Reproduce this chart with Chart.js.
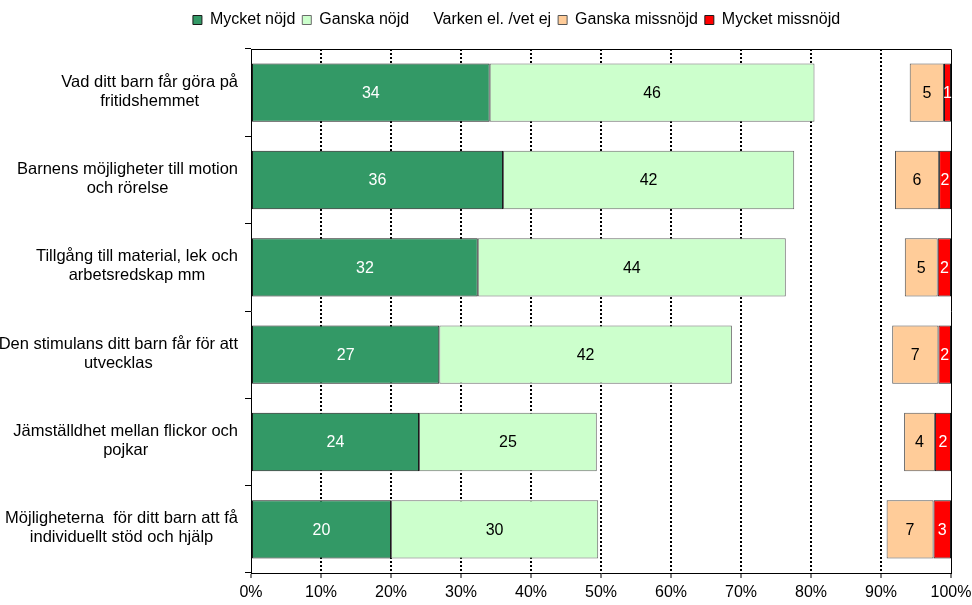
<!DOCTYPE html>
<html>
<head>
<meta charset="utf-8">
<script src="https://cdn.jsdelivr.net/npm/chart.js@4.4.1/dist/chart.umd.min.js"></script>
<style>
  html, body { margin: 0; padding: 0; background: #fff; }
  #wrap { width: 972px; height: 605px; position: relative; }
</style>
</head>
<body>
<div id="wrap"><canvas id="chart"></canvas></div>
<script>
// categories (multi-line, as in the original)
const categories = [
    ['Vad ditt barn får göra på', 'fritidshemmet'],
    ['Barnens möjligheter till motion', 'och rörelse'],
    ['Tillgång till material, lek och', 'arbetsredskap mm'],
    ['Den stimulans ditt barn får för att', 'utvecklas'],
    ['Jämställdhet mellan flickor och', 'pojkar'],
    ['Möjligheterna  för ditt barn att få', 'individuellt stöd och hjälp']
];

// percent per answer
const mycketNojd     = [34.1, 36.0, 32.4, 26.9, 24.0, 20.0];
const ganskaNojd     = [46.4, 41.6, 44.0, 41.8, 25.4, 29.6];
const varken         = [13.6, 14.4, 17.0, 22.9, 43.9, 41.2];
const ganskaMissnojd = [4.9, 6.3, 4.7, 6.6, 4.4, 6.7];
const mycketMissnojd = [1.0, 1.7, 1.9, 1.8, 2.3, 2.5];

const xTicks = [0, 10, 20, 30, 40, 50, 60, 70, 80, 90, 100];

const FONT = '"Liberation Sans", Arial, sans-serif';
Chart.defaults.font.family = FONT;
Chart.defaults.font.size = 16;
Chart.defaults.color = '#000';

// category labels: block right aligned to the axis, lines centred in the block
const yLabelsPlugin = {
    id: 'yLabels',
    afterDraw(chart) {
        const ctx = chart.ctx;
        const yScale = chart.scales.y;
        const right = yScale.right - 13;
        const lineH = 19;
        ctx.save();
        ctx.font = '16.5px ' + FONT;
        ctx.fillStyle = '#000';
        ctx.textAlign = 'center';
        ctx.textBaseline = 'middle';
        categories.forEach((lines, i) => {
            const y = yScale.getPixelForValue(i) - 1;
            const w = Math.max(...lines.map(l => ctx.measureText(l).width));
            const cx = right - w / 2;
            lines.forEach((l, j) => {
                ctx.fillText(l, cx, y + (j - (lines.length - 1) / 2) * lineH);
            });
        });
        ctx.restore();
    }
};

// values inside the bars
const barValuesPlugin = {
    id: 'barValues',
    afterDatasetsDraw(chart) {
        const ctx = chart.ctx;
        ctx.save();
        ctx.font = '16px ' + FONT;
        ctx.textAlign = 'center';
        ctx.textBaseline = 'middle';
        chart.data.datasets.forEach((ds, di) => {
            if (!ds.labelColor) return;
            const meta = chart.getDatasetMeta(di);
            meta.data.forEach((bar, i) => {
                const p = bar.getProps(['x', 'y', 'base'], true);
                ctx.fillStyle = ds.labelColor;
                ctx.fillText(String(Math.round(ds.data[i])), (p.x + p.base) / 2, p.y + 1);
            });
        });
        ctx.restore();
    }
};

// plot area frame (top and right edges; left/bottom are the axes)
const framePlugin = {
    id: 'frame',
    beforeDatasetsDraw(chart) {
        const { ctx, chartArea: a } = chart;
        ctx.save();
        ctx.strokeStyle = '#000';
        ctx.lineWidth = 1;
        ctx.beginPath();
        ctx.moveTo(a.left, Math.round(a.top) + 0.5);
        ctx.lineTo(Math.round(a.right) + 0.5, Math.round(a.top) + 0.5);
        ctx.lineTo(Math.round(a.right) + 0.5, a.bottom);
        ctx.stroke();
        ctx.restore();
    }
};

// fixed legend band height, legend shifted like the original
const legendBandPlugin = {
    id: 'legendBand',
    beforeLayout(chart) {
        const lg = chart.legend;
        if (lg && !lg._bandPatched) {
            const fit = lg.fit;
            lg.fit = function () {
                fit.call(this);
                this.height = 49;
            };
            const draw = lg.draw;
            lg.draw = function () {
                this.ctx.save();
                this.ctx.translate(41, 5);
                draw.call(this);
                this.ctx.restore();
            };
            lg._bandPatched = true;
        }
    }
};

new Chart(document.getElementById('chart'), {
    type: 'bar',
    data: {
        labels: categories,
        datasets: [
            { label: 'Mycket nöjd', data: mycketNojd, backgroundColor: '#339966', borderColor: '#1a1a1a', labelColor: '#fff' },
            { label: 'Ganska nöjd', data: ganskaNojd, backgroundColor: '#CCFFCC', borderColor: '#6a6a6a', labelColor: '#000' },
            { label: 'Varken el. /vet ej', data: varken, backgroundColor: 'transparent', borderColor: 'transparent', borderWidth: 0, labelColor: null },
            { label: 'Ganska missnöjd', data: ganskaMissnojd, backgroundColor: '#FFCC99', borderColor: '#555555', labelColor: '#000' },
            { label: 'Mycket missnöjd', data: mycketMissnojd, backgroundColor: '#FF0000', borderColor: '#1a1a1a', labelColor: '#fff' }
        ]
    },
    options: {
        indexAxis: 'y',
        animation: false,
        responsive: true,
        maintainAspectRatio: false,
        layout: { padding: { left: 0, right: 21, top: 0, bottom: 0 } },
        datasets: {
            bar: { categoryPercentage: 0.667, barPercentage: 1, borderWidth: 1, borderSkipped: false }
        },
        scales: {
            x: {
                stacked: true,
                min: 0,
                max: 100,
                afterBuildTicks: s => { s.ticks = xTicks.map(v => ({ value: v })); },
                ticks: { callback: v => v + '%', padding: 5, color: '#000', maxRotation: 0 },
                grid: {
                    color: c => (c.tick && (c.tick.value === 0 || c.tick.value === 100)) ? 'transparent' : '#000',
                    lineWidth: 2,
                    tickColor: '#000',
                    tickWidth: 1,
                    tickLength: 5
                },
                border: { display: true, color: '#000', width: 1, dash: [2, 2] },
                afterFit: s => { s.height = 32; s.paddingLeft = 0; s.paddingRight = 0; }
            },
            y: {
                stacked: true,
                ticks: { display: false },
                grid: { drawOnChartArea: false, color: '#000', tickColor: '#000', tickLength: 6 },
                border: { display: true, color: '#000', width: 1 },
                afterFit: s => { s.width = 251; }
            }
        },
        plugins: {
            legend: {
                position: 'top',
                labels: { boxWidth: 9, boxHeight: 9, padding: 7, color: '#000', font: { size: 16 } }
            },
            tooltip: { enabled: false }
        }
    },
    plugins: [yLabelsPlugin, barValuesPlugin, framePlugin, legendBandPlugin]
});
</script>
</body>
</html>
